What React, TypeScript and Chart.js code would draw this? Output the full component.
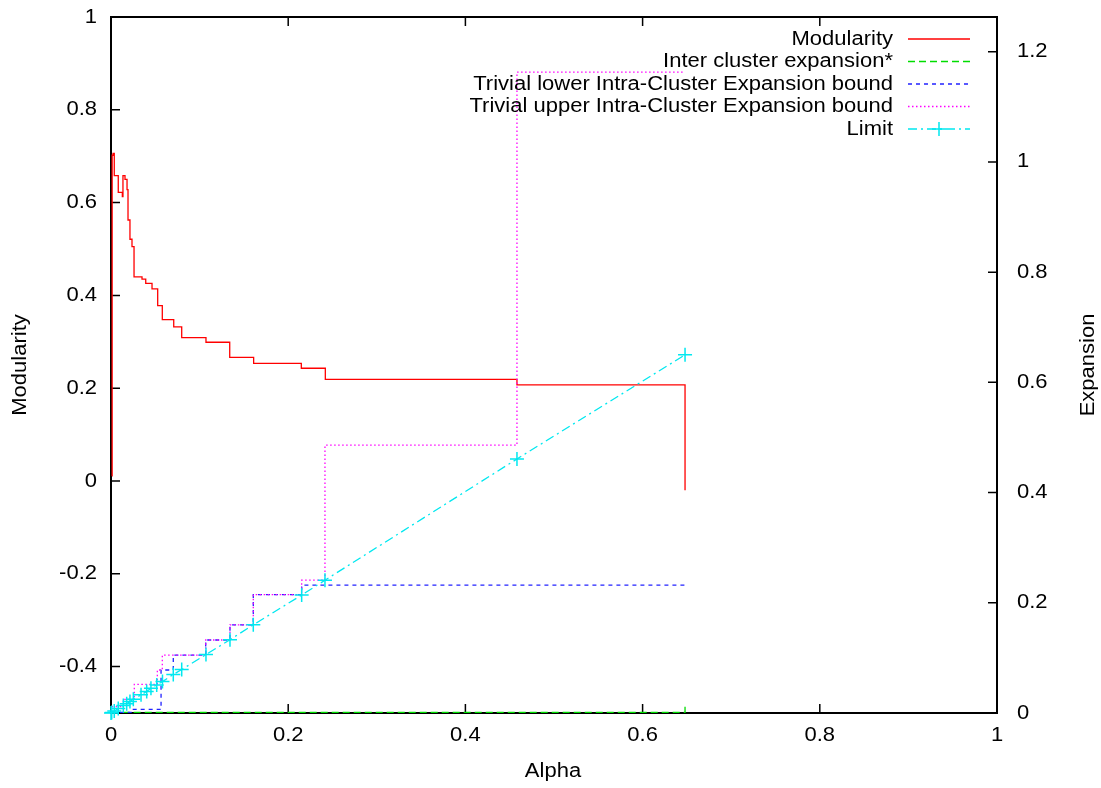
import { useEffect, useRef } from 'react';
import { Chart, registerables } from 'chart.js';

Chart.register(...registerables);

const FONT_FAMILY = '"Liberation Sans", Arial, Helvetica, sans-serif';
const FONT_SIZE = 20;
const TEXT_STRETCH = 1.1;

// Axis ticks
const ALPHA_TICKS = [0, 0.2, 0.4, 0.6, 0.8, 1];
const ALPHA_TICK_LABELS = ['0', '0.2', '0.4', '0.6', '0.8', '1'];
const MOD_TICKS = [-0.4, -0.2, 0, 0.2, 0.4, 0.6, 0.8, 1];
const MOD_TICK_LABELS = ['-0.4', '-0.2', '0', '0.2', '0.4', '0.6', '0.8', '1'];
const EXP_TICKS = [0, 0.2, 0.4, 0.6, 0.8, 1, 1.2];
const EXP_TICK_LABELS = ['0', '0.2', '0.4', '0.6', '0.8', '1', '1.2'];

// Modularity (left axis), step series
const MOD_ALPHA = [0.001, 0.0013, 0.0023, 0.0037, 0.0082, 0.0128, 0.0135, 0.0158, 0.0181, 0.0192, 0.0214, 0.0237, 0.026, 0.035, 0.0392, 0.0463, 0.0527, 0.0579, 0.0708, 0.0798, 0.1072, 0.134, 0.161, 0.2148, 0.2419, 0.4582, 0.6479];
const MOD_VALUE = [0.011, 0.702, 0.706, 0.658, 0.622, 0.613, 0.658, 0.65, 0.628, 0.5625, 0.521, 0.505, 0.44, 0.435, 0.426, 0.414, 0.378, 0.348, 0.332, 0.309, 0.299, 0.2665, 0.2536, 0.243, 0.219, 0.207, -0.02];

// Inter cluster expansion* (right axis)
const INTER_ALPHA = [0.0008, 0.6479];
const INTER_VALUE = [0.001, 0.018];

// Trivial lower Intra-Cluster Expansion bound (right axis)
const LOWER_ALPHA = [0.0008, 0.0237, 0.0565, 0.0703, 0.1069, 0.1343, 0.1606, 0.2152, 0.6479];
const LOWER_VALUE = [0.001, 0.0065, 0.078, 0.105, 0.1325, 0.16, 0.2147, 0.232, 0.232];

// Trivial upper Intra-Cluster Expansion bound (right axis)
const UPPER_ALPHA = [0.0008, 0.0139, 0.0263, 0.0523, 0.0579, 0.1069, 0.1343, 0.1606, 0.2152, 0.2415, 0.4582, 0.6479];
const UPPER_VALUE = [0.0114, 0.0249, 0.052, 0.078, 0.105, 0.1325, 0.16, 0.2147, 0.241, 0.486, 1.163, 1.163];

// Limit (right axis)
const LIMIT_ALPHA = [0, 0.0008, 0.0037, 0.0082, 0.0139, 0.0177, 0.0214, 0.0252, 0.0339, 0.0403, 0.0451, 0.0516, 0.0581, 0.0703, 0.0798, 0.1072, 0.1343, 0.1606, 0.2152, 0.2415, 0.4582, 0.6479];
const LIMIT_VALUE = [0, 0.0008, 0.0037, 0.008, 0.0135, 0.017, 0.021, 0.025, 0.033, 0.039, 0.045, 0.051, 0.057, 0.07, 0.079, 0.106, 0.133, 0.16, 0.214, 0.241, 0.461, 0.65];

const SERIES_LABELS = [
  'Modularity',
  'Inter cluster expansion*',
  'Trivial lower Intra-Cluster Expansion bound',
  'Trivial upper Intra-Cluster Expansion bound',
  'Limit',
];
const COLORS = ['#ff0000', '#00dd00', '#2222ff', '#ff00ff', '#00e8f0'];
const DASHES: number[][] = [[], [7, 4], [4, 4], [1.5, 2.5], [9, 4, 2, 4]];

const toPoints = (xs: number[], ys: number[]) => xs.map((x, i) => ({ x, y: ys[i] }));

const drawText = (ctx: CanvasRenderingContext2D, text: string, x: number, y: number, align: CanvasTextAlign, rotate = 0) => {
  ctx.save();
  ctx.translate(x, y);
  if (rotate) ctx.rotate(rotate);
  ctx.scale(TEXT_STRETCH, 1);
  ctx.textAlign = align;
  ctx.textBaseline = 'middle';
  ctx.fillText(text, 0, 0);
  ctx.restore();
};

const gnuplotPlugin = {
  id: 'gnuplotDecor',
  beforeDatasetsDraw(chart: any) {
    const { ctx, chartArea: a, scales } = chart;
    ctx.save();
    ctx.strokeStyle = '#000';
    ctx.lineWidth = 1.5;
    ctx.setLineDash([]);
    const tl = 9;
    ctx.beginPath();
    ALPHA_TICKS.forEach((v) => {
      const x = scales.x.getPixelForValue(v);
      ctx.moveTo(x, a.bottom);
      ctx.lineTo(x, a.bottom - tl);
      ctx.moveTo(x, a.top);
      ctx.lineTo(x, a.top + tl);
    });
    MOD_TICKS.forEach((v) => {
      const y = scales.y.getPixelForValue(v);
      ctx.moveTo(a.left, y);
      ctx.lineTo(a.left + tl, y);
    });
    EXP_TICKS.forEach((v) => {
      const y = scales.y2.getPixelForValue(v);
      ctx.moveTo(a.right, y);
      ctx.lineTo(a.right - tl, y);
    });
    ctx.stroke();
    ctx.lineWidth = 2;
    ctx.strokeRect(a.left, a.top, a.right - a.left, a.bottom - a.top);

    // tick labels
    ctx.fillStyle = '#000';
    ctx.font = `${FONT_SIZE}px ${FONT_FAMILY}`;
    ALPHA_TICKS.forEach((v, i) => drawText(ctx, ALPHA_TICK_LABELS[i], scales.x.getPixelForValue(v), a.bottom + 22, 'center'));
    MOD_TICKS.forEach((v, i) => drawText(ctx, MOD_TICK_LABELS[i], a.left - 14, scales.y.getPixelForValue(v), 'right'));
    EXP_TICKS.forEach((v, i) => drawText(ctx, EXP_TICK_LABELS[i], a.right + 20, scales.y2.getPixelForValue(v), 'left'));

    // axis titles
    drawText(ctx, 'Alpha', (a.left + a.right) / 2 - 1, 771, 'center');
    drawText(ctx, 'Modularity', 20, 365, 'center', -Math.PI / 2);
    drawText(ctx, 'Expansion', 1088, 365, 'center', -Math.PI / 2);
    ctx.restore();
  },
  afterDraw(chart: any) {
    const { ctx } = chart;
    ctx.save();
    ctx.font = `${FONT_SIZE}px ${FONT_FAMILY}`;
    const rows = [39, 61.5, 84, 106.5, 129];
    SERIES_LABELS.forEach((label, i) => {
      const y = rows[i];
      ctx.fillStyle = '#000';
      drawText(ctx, label, 893, y, 'right');
      ctx.strokeStyle = COLORS[i];
      ctx.lineWidth = 1.3;
      ctx.setLineDash(DASHES[i]);
      ctx.beginPath();
      ctx.moveTo(908, y);
      ctx.lineTo(970, y);
      ctx.stroke();
      if (i === 4) {
        ctx.setLineDash([]);
        ctx.lineWidth = 1.5;
        ctx.beginPath();
        ctx.moveTo(939 - 7, y);
        ctx.lineTo(939 + 7, y);
        ctx.moveTo(939, y - 7);
        ctx.lineTo(939, y + 7);
        ctx.stroke();
      }
    });
    ctx.restore();
  },
};

export default function App() {
  const ref = useRef<HTMLCanvasElement>(null);
  useEffect(() => {
    document.body.style.margin = '0';
    document.body.style.overflow = 'hidden';
    const base = {
      fill: false,
      pointRadius: 0,
      borderWidth: 1.3,
      stepped: 'before' as const,
      xAxisID: 'x',
    };
    const hiddenTicks = { display: false };
    const chart = new Chart(ref.current as HTMLCanvasElement, {
      type: 'line',
      data: {
        datasets: [
          { ...base, label: SERIES_LABELS[0], data: toPoints(MOD_ALPHA, MOD_VALUE), borderColor: COLORS[0], borderDash: DASHES[0], yAxisID: 'y', order: 5 },
          { ...base, label: SERIES_LABELS[1], data: toPoints(INTER_ALPHA, INTER_VALUE), borderColor: COLORS[1], borderDash: DASHES[1], yAxisID: 'y2', order: 4 },
          { ...base, label: SERIES_LABELS[2], data: toPoints(LOWER_ALPHA, LOWER_VALUE), borderColor: COLORS[2], borderDash: DASHES[2], yAxisID: 'y2', order: 3 },
          { ...base, label: SERIES_LABELS[3], data: toPoints(UPPER_ALPHA, UPPER_VALUE), borderColor: COLORS[3], borderDash: DASHES[3], yAxisID: 'y2', order: 2 },
          {
            ...base,
            stepped: false,
            label: SERIES_LABELS[4],
            data: toPoints(LIMIT_ALPHA, LIMIT_VALUE),
            borderColor: COLORS[4],
            borderDash: DASHES[4],
            yAxisID: 'y2',
            order: 1,
            pointStyle: 'cross',
            pointRadius: 7,
            pointBorderWidth: 1.5,
            pointBorderColor: COLORS[4],
            clip: 8,
          } as any,
        ],
      },
      options: {
        responsive: false,
        devicePixelRatio: 1,
        animation: false,
        layout: { padding: { top: 17, left: 0, right: 0, bottom: 0 } },
        plugins: { legend: { display: false }, tooltip: { enabled: false } },
        scales: {
          x: {
            type: 'linear',
            min: 0,
            max: 1,
            afterBuildTicks: (s: any) => { s.ticks = ALPHA_TICKS.map((v) => ({ value: v })); },
            afterFit: (s: any) => { s.height = 75; },
            ticks: hiddenTicks,
            grid: { display: false, drawTicks: false },
            border: { display: false },
          },
          y: {
            type: 'linear',
            position: 'left',
            min: -0.5,
            max: 1,
            afterBuildTicks: (s: any) => { s.ticks = MOD_TICKS.map((v) => ({ value: v })); },
            afterFit: (s: any) => { s.width = 111; },
            ticks: hiddenTicks,
            grid: { display: false, drawTicks: false },
            border: { display: false },
          },
          y2: {
            type: 'linear',
            position: 'right',
            min: 0,
            max: 1.263,
            afterBuildTicks: (s: any) => { s.ticks = EXP_TICKS.map((v) => ({ value: v })); },
            afterFit: (s: any) => { s.width = 104; },
            ticks: hiddenTicks,
            grid: { display: false, drawTicks: false },
            border: { display: false },
          },
        },
      } as any,
      plugins: [gnuplotPlugin],
    });
    return () => chart.destroy();
  }, []);
  return (
    <div style={{ width: 1101, height: 788 }}>
      <canvas ref={ref} width={1101} height={788} style={{ display: 'block' }} />
    </div>
  );
}
